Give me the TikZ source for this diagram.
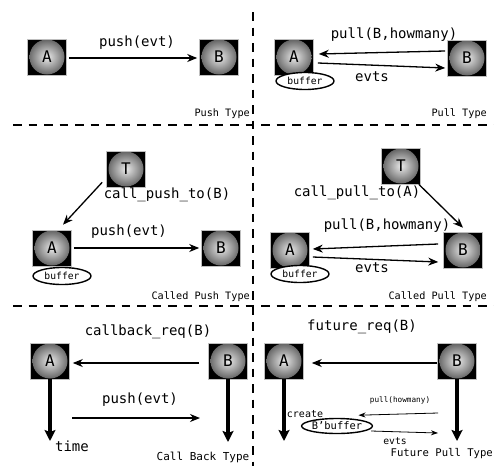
\documentclass[tikz,border=0pt]{standalone}
\usepackage{fontspec}
\setmainfont{DejaVu Sans Mono}
\usetikzlibrary{arrows.meta,calc,shapes.geometric}
\newcommand{\fs}[1]{\fontsize{#1}{#1}\selectfont}
% light centre fading to a dark rim, spread over the whole disc
\pgfdeclareradialshading{ball}{\pgfpoint{0bp}{0bp}}{%
  color(0bp)=(black!8); color(10bp)=(black!30); color(25bp)=(black!62);
  color(40bp)=(black!82); color(50bp)=(black!92)}
\tikzset{
  actor/.style={rectangle, fill=black, draw=gray!50, line width=0.6pt,
    minimum width=39pt, minimum height=36pt, inner sep=0pt,
    font=\fs{16}, text=black,
    path picture={\shade[shading=ball]
      (path picture bounding box.center) circle (17.5pt);}},
  msg/.style={line width=1.3pt, -{Stealth[length=10pt,width=8pt]}},
  thinmsg/.style={line width=0.8pt, -{Stealth[length=7pt,width=5pt]}},
  lifeline/.style={line width=3.3pt, -{Stealth[length=11pt,width=11pt,inset=2pt]}},
  lbl/.style={font=\fs{14}, inner sep=0pt},
  small/.style={font=\fs{10.2}, inner sep=0pt},
  tiny/.style={font=\fs{7.7}, inner sep=0pt},
  buf/.style={ellipse, draw, fill=white, line width=1.4pt, inner sep=0pt,
    minimum width=58pt, minimum height=17pt, font=\fs{9.7}},
  sep/.style={dashed, dash pattern=on 8.5pt off 7pt, line width=1.3pt}
}
\begin{document}
\begin{tikzpicture}[x=1pt,y=-1pt]
\useasboundingbox[fill=white] (0,0) rectangle (494,466);

% panel separators
\draw[sep] (253,12) -- (253,466);
\draw[sep] (13,125) -- (494,125);
\draw[sep] (13,306) -- (494,306);

% Push Type
\node[actor] (A1) at (47,57) {A};
\node[actor] (B1) at (219,57) {B};
\draw[msg] ($(A1.east)+(2,1)$) -- ($(B1.west)+(-2,1)$);
\node[lbl] (l1) at (137,43) {push(evt)};
\node[small, anchor=east] (t1) at (250,114) {Push Type};

% Pull Type
\node[actor] (A2) at (294,57) {A};
\node[actor] (B2) at (467,58) {B};
\draw[msg] ($(B2.west)+(-2,-7)$) -- ($(A2.east)+(5,-3)$);
\draw[msg] ($(A2.east)+(4,6)$) -- ($(B2.west)+(-2,10)$);
\node[lbl] (l2a) at (394,35) {pull(B,howmany)};
\node[lbl] (l2b) at (372,77) {evts};
\node[buf] (buf2) at (305,81) {buffer};
\node[small, anchor=east] (t2) at (487,114) {Pull Type};

% Called Push Type
\node[actor] (T3) at (126,169) {T};
\node[actor] (A3) at (52,248) {A};
\node[actor] (B3) at (221,248) {B};
\draw[msg] ($(T3.south west)+(-4,-5)$) -- ($(A3.north)+(11,-5)$);
\draw[msg] ($(A3.east)+(2,0)$) -- ($(B3.west)+(-2,0)$);
\node[lbl] (l3a) at (167,195) {call\_push\_to(B)};
\node[lbl] (l3b) at (129,232) {push(evt)};
\node[buf] (buf3) at (62,276) {buffer};
\node[small, anchor=east] (t3) at (250,297) {Called Push Type};

% Called Pull Type
\node[actor] (T4) at (401,166) {T};
\node[actor] (A4) at (290,250) {A};
\node[actor] (B4) at (463,250) {B};
\draw[msg] ($(T4.south east)+(-2,0)$) -- ($(B4.north)+(0,-4)$);
\draw[msg] ($(B4.west)+(-5,-6)$) -- ($(A4.east)+(3,-1)$);
\draw[msg] ($(A4.east)+(3,7)$) -- ($(B4.west)+(-5,12)$);
\node[lbl] (l4a) at (357,193) {call\_pull\_to(A)};
\node[lbl] (l4b) at (387,226) {pull(B,howmany)};
\node[lbl] (l4c) at (372,268) {evts};
\node[buf] (buf4) at (300,274) {buffer};
\node[small, anchor=east] (t4) at (487,297) {Called Pull Type};

% Call Back Type
\node[actor] (A5) at (50,361) {A};
\node[actor] (B5) at (228,361) {B};
\coordinate (A5end) at (50,441);
\coordinate (B5end) at (228,442);
\draw[lifeline] (A5.south) -- (A5end);
\draw[lifeline] (B5.south) -- (B5end);
\draw[msg] ($(B5.west)+(-9,2)$) -- ($(A5.east)+(3,2)$);
\coordinate (p5s) at (72,418);
\coordinate (p5e) at (200,418);
\draw[msg] (p5s) -- (p5e);
\node[lbl] (l5a) at (148,332) {callback\_req(B)};
\node[lbl] (l5b) at (140,400) {push(evt)};
\node[lbl] (l5c) at (72,446) {time};
\node[font=\fs{11}, inner sep=0pt] (t5) at (203,457) {Call Back Type};

% Future Pull Type
\node[actor] (A6) at (284,361) {A};
\node[actor] (B6) at (457,361) {B};
\coordinate (A6end) at (284,441);
\coordinate (B6end) at (457,441);
\draw[lifeline] (A6.south) -- (A6end);
\draw[lifeline] (B6.south) -- (B6end);
\draw[msg] ($(B6.west)+(0,2)$) -- ($(A6.east)+(8,2)$);
\node[lbl] (l6a) at (362,327) {future\_req(B)};
\node[buf, minimum width=60pt, minimum height=15pt, font=\fs{10.4}] (buf6) at (337,426) {B'buffer};
\coordinate (p6a) at (438,413);
\draw[thinmsg] (p6a) -- ($(buf6.north east)+(-4,-5)$);
\coordinate (p6b) at (438,433);
\draw[thinmsg] ($(buf6.east)+(-2,5)$) -- (p6b);
\node[tiny] (l6b) at (400,400) {pull(howmany)};
\node[font=\fs{10}, inner sep=0pt] (l6c) at (305,414) {create};
\node[font=\fs{9.7}, inner sep=0pt] (l6d) at (395,441) {evts};
\node[font=\fs{10.6}, inner sep=0pt, anchor=east] (t6) at (493,454) {Future Pull Type};
\end{tikzpicture}
\end{document}
